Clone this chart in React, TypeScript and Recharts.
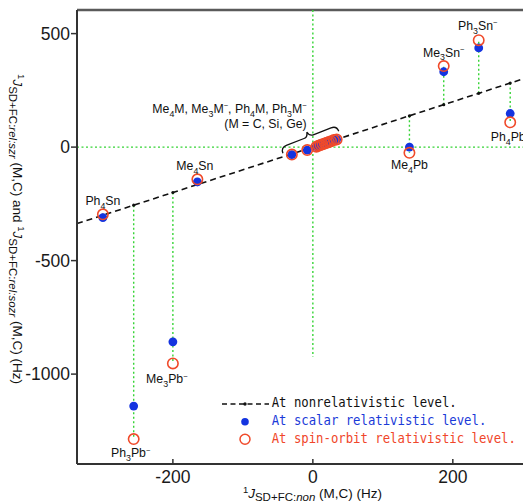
import React from 'react';
import { ScatterChart, Scatter, XAxis, YAxis, ReferenceLine, ReferenceDot } from 'recharts';

// Heavy-element compounds: x = nonrelativistic J, y = relativistic J (Hz)
const compounds = ['Ph_4Sn', 'Me_4Sn', 'Ph_3Pb^−', 'Me_3Pb^−', 'Me_4Pb', 'Me_3Sn^−', 'Ph_3Sn^−', 'Ph_4Pb'];
const nonrelJ = [-300, -165, -256, -200, 138, 187, 237, 282];
const scalarJ = [-311, -153, -1141, -858, 0, 332, 437, 148];
const spinOrbitJ = [-296, -142, -1286, -953, -25, 357, 471, 109];

// Light-element compounds (M = C, Si, Ge)
const lightNonrelJ = [-30, -8, 5, 8, 11, 14, 17, 20, 23, 26, 30, 34];
const lightScalarJ = [-33, -13, 2, 5, 9, 12, 15, 19, 23, 26, 30, 34];
const lightSpinOrbitJ = [-33, -13, 2, 6, 9, 13, 16, 19, 23, 26, 31, 34];

const xTicks = [-200, 0, 200];
const yTicks = [-1000, -500, 0, 500];
const legendLabels = ['At nonrelativistic level.', 'At scalar relativistic level.', 'At spin-orbit relativistic level.'];
const clusterLabelLines = ['Me_4M, Me_3M^−, Ph_4M, Ph_3M^−', '(M = C, Si, Ge)'];

// ---- layout / style (not data) ----
const X_DOMAIN: [number, number] = [-337, 336];
const Y_DOMAIN: [number, number] = [-1396, 604];
const ZERO_LINE_BOTTOM = -925;
const BRACE_AT = { x: -6, y: 46 };
const labelDx = [0, -2.5, -3, -6, 0, 0, -1, -2];
const labelDy = [-9, -9.2, 18.4, 20, 16.6, -9.3, -10, 18.7];
const SANS = "'Liberation Sans', Arial, Helvetica, sans-serif";
const MONO = "'DejaVu Sans Mono', monospace";
const BLUE = '#1434e0';
const RED = '#f04a2a';
const GREEN = '#36d436';
const AXIS = '#333';

function parseRich(s: string) {
  const out: { t: string; k: 'n' | 'sub' | 'sup' }[] = [];
  let buf = '';
  for (let i = 0; i < s.length; i++) {
    const c = s[i];
    if ((c === '_' || c === '^') && i + 1 < s.length) {
      if (buf) { out.push({ t: buf, k: 'n' }); buf = ''; }
      out.push({ t: s[i + 1], k: c === '_' ? 'sub' : 'sup' });
      i++;
    } else buf += c;
  }
  if (buf) out.push({ t: buf, k: 'n' });
  return out;
}

function richTspans(s: string, size: number) {
  let shift = 0;
  return parseRich(s).map((p, i) => {
    const target = p.k === 'sub' ? size * 0.3 : p.k === 'sup' ? -size * 0.4 : 0;
    const dy = target - shift;
    shift = target;
    const fs = p.k === 'n' ? size : p.k === 'sub' ? size * 0.72 : size * 0.62;
    return (
      <tspan key={i} dy={dy} fontSize={fs}>
        {p.t}
      </tspan>
    );
  });
}

const heavyNonrel = compounds.map((name, i) => ({ x: nonrelJ[i], y: nonrelJ[i] }));
const heavyScalar = compounds.map((name, i) => ({ x: nonrelJ[i], y: scalarJ[i] }));
const heavySO = compounds.map((name, i) => ({ x: nonrelJ[i], y: spinOrbitJ[i] }));
const heavyLabels = compounds.map((name, i) => ({ x: nonrelJ[i], y: spinOrbitJ[i], name, i }));
const lightNonrel = lightNonrelJ.map((v) => ({ x: v, y: v }));
const lightScalar = lightNonrelJ.map((v, i) => ({ x: v, y: lightScalarJ[i] }));
const lightSO = lightNonrelJ.map((v, i) => ({ x: v, y: lightSpinOrbitJ[i] }));

const nonrelPoints = [...heavyNonrel, ...lightNonrel];
const scalarPoints = [...heavyScalar, ...lightScalar];
const soPoints = [...heavySO, ...lightSO];

const XTick = (props: any) => {
  const { x, y, payload } = props;
  return (
    <g>
      <line x1={x} x2={x} y1={y - 5} y2={y} stroke={AXIS} strokeWidth={1.5} />
      <text x={x} y={y + 19} textAnchor="middle" fontFamily={SANS} fontSize={17.5} fill="#1a1a1a">
        {payload.value}
      </text>
    </g>
  );
};

const LabelShape = (props: any) => {
  const { cx, cy, payload } = props;
  const i = payload.i;
  return (
    <text x={cx + labelDx[i]} y={cy + labelDy[i]} textAnchor="middle" fontFamily={SANS} fontSize={12.3} fill="#111">
      {richTspans(payload.name, 12.3)}
    </text>
  );
};

const BraceShape = (props: any) => {
  const { cx, cy } = props;
  return (
    <g>
      <g transform={`translate(${cx},${cy}) rotate(-21.5)`}>
        <path
          d="M -30 6 Q -30 0 -24 0 L -5 0 Q -1 0 0 -5 Q 1 0 5 0 L 24 0 Q 30 0 30 6"
          fill="none"
          stroke="#111"
          strokeWidth={1.3}
        />
      </g>
      <text x={cx - 2} y={cy - 23.8} textAnchor="end" fontFamily={SANS} fontSize={12.3} fill="#111">
        {richTspans(clusterLabelLines[0], 12.3)}
      </text>
      <text x={cx - 2} y={cy - 8.2} textAnchor="end" fontFamily={SANS} fontSize={12.3} fill="#111">
        {richTspans(clusterLabelLines[1], 12.3)}
      </text>
    </g>
  );
};

const M = 13.5; // title main font size
const S = 11.5; // title subscript font size

export default function App() {
  return (
    <div style={{ position: 'fixed', left: 0, top: 0, width: 523, height: 503, overflow: 'hidden', background: '#fff' }}>
      <ScatterChart width={560} height={503} margin={{ top: 10, right: 12, bottom: 0, left: 17 }}>
        <XAxis
          type="number"
          dataKey="x"
          domain={X_DOMAIN}
          ticks={xTicks}
          interval={0}
          allowDataOverflow
          height={39}
          tickSize={0}
          tickMargin={0}
          tickLine={false}
          axisLine={{ stroke: AXIS, strokeWidth: 1.8 }}
          tick={(p: any) => <XTick {...p} />}
        />
        <YAxis
          type="number"
          dataKey="y"
          domain={Y_DOMAIN}
          ticks={yTicks}
          interval={0}
          allowDataOverflow
          width={60}
          tickSize={6}
          tickMargin={1}
          tickLine={{ stroke: AXIS, strokeWidth: 1.5 }}
          axisLine={{ stroke: AXIS, strokeWidth: 2 }}
          tick={{ fontFamily: SANS, fontSize: 17.5, fill: '#1a1a1a' }}
        />
        <ReferenceLine y={Y_DOMAIN[1]} stroke="#5a5a5a" strokeWidth={2.5} ifOverflow="visible" />
        <ReferenceLine y={0} stroke={GREEN} strokeWidth={1.4} strokeDasharray="2 2.5" ifOverflow="visible" />
        <ReferenceLine
          segment={[{ x: 0, y: Y_DOMAIN[1] }, { x: 0, y: ZERO_LINE_BOTTOM }]}
          stroke={GREEN}
          strokeWidth={1.4}
          strokeDasharray="2 2.5"
          ifOverflow="visible"
        />
        {compounds.map((c, i) => (
          <ReferenceLine
            key={c}
            segment={[{ x: nonrelJ[i], y: nonrelJ[i] }, { x: nonrelJ[i], y: spinOrbitJ[i] }]}
            stroke={GREEN}
            strokeWidth={1.4}
            strokeDasharray="2 2.5"
            ifOverflow="visible"
          />
        ))}
        <ReferenceLine
          segment={[{ x: X_DOMAIN[0], y: X_DOMAIN[0] }, { x: X_DOMAIN[1], y: X_DOMAIN[1] }]}
          stroke="#111"
          strokeWidth={1.6}
          strokeDasharray="6 4"
          ifOverflow="visible"
        />
        <Scatter
          data={nonrelPoints}
          isAnimationActive={false}
          shape={(p: any) => <circle cx={p.cx} cy={p.cy} r={1.6} fill="#111" />}
        />
        <Scatter
          data={scalarPoints}
          isAnimationActive={false}
          shape={(p: any) => <circle cx={p.cx} cy={p.cy} r={4.4} fill={BLUE} />}
        />
        <Scatter
          data={soPoints}
          isAnimationActive={false}
          shape={(p: any) => <circle cx={p.cx} cy={p.cy} r={5.2} fill="none" stroke={RED} strokeWidth={1.6} />}
        />
        <Scatter data={heavyLabels} isAnimationActive={false} shape={(p: any) => <LabelShape {...p} />} />
        <ReferenceDot x={BRACE_AT.x} y={BRACE_AT.y} ifOverflow="visible" shape={(p: any) => <BraceShape {...p} />} />
      </ScatterChart>

      <svg
        width={523}
        height={503}
        style={{ position: 'absolute', left: 0, top: 0, pointerEvents: 'none' }}
      >
        {/* Y axis title */}
        <text transform="rotate(90)" x={229} y={-12.5} textAnchor="middle" fontFamily={SANS} fontSize={M} fill="#111">
          <tspan dy={-5} fontSize={9.5}>1</tspan>
          <tspan dy={5} fontStyle="italic">J</tspan>
          <tspan dy={3.5} fontSize={S}>SD+FC:</tspan>
          <tspan fontSize={S} fontStyle="italic">rel:szr</tspan>
          <tspan dy={-3.5}> (M,C) and </tspan>
          <tspan dy={-5} fontSize={9.5}>1</tspan>
          <tspan dy={5} fontStyle="italic">J</tspan>
          <tspan dy={3.5} fontSize={S}>SD+FC:</tspan>
          <tspan fontSize={S} fontStyle="italic">rel:sozr</tspan>
          <tspan dy={-3.5}> (M,C) (Hz)</tspan>
        </text>
        {/* X axis title */}
        <text x={312.5} y={497.5} textAnchor="middle" fontFamily={SANS} fontSize={M} fill="#111">
          <tspan dy={-5} fontSize={9.5}>1</tspan>
          <tspan dy={5} fontStyle="italic">J</tspan>
          <tspan dy={3.5} fontSize={S}>SD+FC:</tspan>
          <tspan fontSize={S} fontStyle="italic">non</tspan>
          <tspan dy={-3.5}> (M,C) (Hz)</tspan>
        </text>
        {/* Legend */}
        <line x1={222} x2={269} y1={404} y2={404} stroke="#111" strokeWidth={1.5} strokeDasharray="5 3.5" />
        <circle cx={245} cy={404} r={1.7} fill="#111" />
        <circle cx={245} cy={421.7} r={3.8} fill={BLUE} />
        <circle cx={245} cy={439.3} r={5} fill="none" stroke={RED} strokeWidth={1.5} />
        {legendLabels.map((t, i) => (
          <text
            key={t}
            x={271.7}
            y={[407.3, 425, 443.3][i]}
            fontFamily={MONO}
            fontSize={14}
            textLength={t.length * 7.4}
            lengthAdjust="spacingAndGlyphs"
            fill={['#111', '#1a3ad8', '#f0462a'][i]}
          >
            {t}
          </text>
        ))}
      </svg>
    </div>
  );
}
